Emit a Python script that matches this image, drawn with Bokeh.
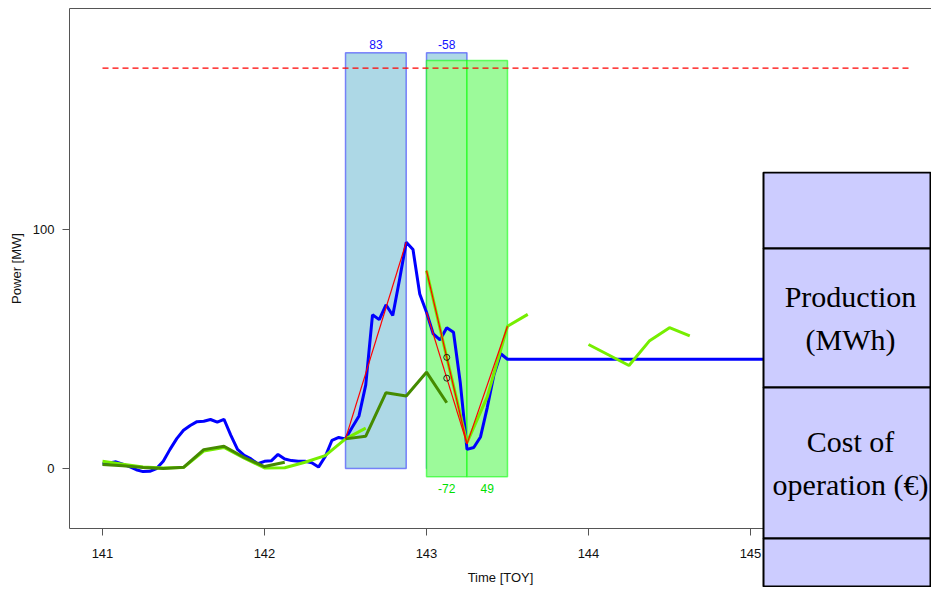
import numpy as np
from bokeh.plotting import figure
from bokeh.layouts import column
from bokeh.models import Range1d, FixedTicker, LinearAxis, ColumnDataSource
from bokeh.embed import file_html
from bokeh.resources import INLINE
from bokeh.core.properties import value

# ---------------- data ----------------
# hourly measured power (MW), starting at TOY 141.0
measured_hours = list(range(61))
measured_t = [141 + h / 24 for h in measured_hours] + [146.0]
measured_power = [2.0, 2.3, 2.8, 1.8, 0.8, -0.5, -1.3, -1.2, 0.0, 3.0,
                  8.0, 12.5, 16.0, 18.0, 19.6, 19.8, 20.5, 19.4, 20.6, 14.0,
                  8.0, 5.5, 4.0, 2.0, 3.0, 3.2, 5.9, 4.0, 3.3, 3.0,
                  3.0, 2.4, 0.6, 5.0, 11.8, 13.0, 12.4, 17.3, 22.0, 35.0,
                  64.3, 62.3, 68.5, 64.0, 79.0, 94.7, 91.6, 73.0, 65.4, 56.3,
                  53.8, 58.9, 57.0, 36.0, 8.0, 8.8, 13.2, 25.5, 39.3, 48.0,
                  45.7, 45.7]

# forecast runs (light green), 3-hourly
forecast_a_t = [[141.0, 141.125, 141.25, 141.375, 141.5, 141.625, 141.75, 141.875,
                 142.0, 142.125, 142.25, 142.375, 142.5, 142.625],
                [143.0, 143.125, 143.25, 143.375, 143.5, 143.625],
                [144.0, 144.125, 144.25, 144.375, 144.5, 144.625]]
forecast_a_power = [[3.0, 1.8, 0.6, 0.2, 0.4, 7.3, 8.8, 4.3, 0.2, 0.3, 2.6, 5.4, 12.4, 16.9],
                    [82.8, 46.5, 10.8, 30.0, 59.5, 64.5],
                    [51.9, 47.5, 43.1, 53.3, 58.9, 55.5]]

# forecast runs (dark green), 3-hourly
forecast_b_t = [[141.0, 141.125, 141.25, 141.375, 141.5, 141.625, 141.75, 141.875, 142.0, 142.125],
                [142.5, 142.625, 142.75, 142.875, 143.0, 143.125]]
forecast_b_power = [[1.7, 1.2, 0.4, 0.0, 0.5, 7.9, 9.3, 4.6, 0.8, 2.6],
                    [12.4, 13.5, 31.7, 30.3, 40.3, 27.5]]

# ramps (red)
ramp_t = [[142.5, 142.875], [143.0, 143.25], [143.0, 143.25], [143.25, 143.5]]
ramp_power = [[12.4, 94.7], [82.8, 10.3], [65.4, 10.3], [10.3, 59.5]]
ramp_mid_t = [143.125, 143.125]
ramp_mid_power = [46.5, 37.8]

# capacity limit (dashed red)
limit_t = [141.0, 146.0]
limit_power = [167.5, 167.5]

# ramp-up blocks (blue)
up_left = [142.5, 143.0]
up_right = [142.875, 143.25]
up_bottom = [0.0, 0.0]
up_top = [174.0, 174.0]
up_labels = ["83", "-58"]

# ramp-down blocks (green)
down_left = [143.0, 143.25]
down_right = [143.25, 143.5]
down_bottom = [-3.5, -3.5]
down_top = [170.7, 170.7]
down_labels = ["-72", "49"]

x_ticks = [141, 142, 143, 144, 145, 146]
y_ticks = [0, 100]

table_rows = ["", "Production\n(MWh)", "Cost of\noperation (\u20ac)", ""]

# ---------------- layout (reference pixel geometry) ----------------
W, H = 931, 587
X_ORIGIN_PX, X_UNIT_PX = 102.0, 162.0   # TOY 141 at px 102, 162 px per day
Y_ORIGIN_PX, Y_UNIT_PX = 468.0, 2.39    # 0 MW at px 468
FRAME_L, FRAME_R, FRAME_T, FRAME_B = 69, W, 8, 528


def xd(px):
    return 141 + (px - X_ORIGIN_PX) / X_UNIT_PX


def yd(py):
    return (Y_ORIGIN_PX - py) / Y_UNIT_PX


FONT = "Liberation Sans"

p = figure(width=W, height=H, output_backend="svg", toolbar_location=None,
           x_range=Range1d(xd(FRAME_L), xd(FRAME_R)),
           y_range=Range1d(yd(FRAME_B), yd(FRAME_T)),
           min_border_left=FRAME_L, min_border_right=0, min_border_top=FRAME_T,
           min_border_bottom=H - FRAME_B)
p.outline_line_color = None
p.grid.visible = False
p.background_fill_color = "white"
p.border_fill_color = "white"

AX_COL = "#555555"
for ax in (p.xaxis[0], p.yaxis[0]):
    ax.axis_line_color = AX_COL
    ax.major_tick_line_color = AX_COL
    ax.minor_tick_line_color = None
    ax.major_tick_in = 0
    ax.major_tick_out = 7
    ax.major_label_text_font = FONT
    ax.major_label_text_font_size = "13px"
    ax.major_label_text_color = "#111111"
    ax.axis_label_text_font = FONT
    ax.axis_label_text_font_size = "13px"
    ax.axis_label_text_font_style = "normal"
    ax.axis_label_text_color = "#111111"

p.xaxis.ticker = FixedTicker(ticks=x_ticks)
p.yaxis.ticker = FixedTicker(ticks=y_ticks)
p.xaxis.axis_label = "Time [TOY]"
p.yaxis.axis_label = "Power [MW]"
p.xaxis.major_label_standoff = 13
p.xaxis.axis_label_standoff = 9
p.yaxis.major_label_standoff = 8
p.yaxis.axis_label_standoff = 6
p.yaxis.major_label_orientation = "horizontal"

top_axis = LinearAxis(ticker=FixedTicker(ticks=[]), axis_line_color=AX_COL,
                      major_tick_out=0, major_tick_in=0, minor_tick_out=0, minor_tick_in=0,
                      major_label_text_font_size="0px", major_label_standoff=0)
p.add_layout(top_axis, "above")

# blocks
up_src = ColumnDataSource(dict(l=up_left, r=up_right, b=up_bottom, t=up_top,
                               c=[(a + b) / 2 for a, b in zip(up_left, up_right)], lab=up_labels))
down_src = ColumnDataSource(dict(l=down_left, r=down_right, b=down_bottom, t=down_top,
                                 c=[(a + b) / 2 for a, b in zip(down_left, down_right)], lab=down_labels))
p.quad(left="l", right="r", bottom="b", top="t", source=up_src,
       fill_color="#ADD8E6", line_color="#0000FF", line_alpha=0.45, line_width=1.5)
p.quad(left="l", right="r", bottom="b", top="t", source=down_src,
       fill_color="#9CFA9A", line_color="#00FF00", line_alpha=0.55, line_width=1.5)
p.text(x="c", y="t", text="lab", source=up_src, text_color="#1010FF",
       text_font=value(FONT), text_font_size="12px", text_align="center",
       text_baseline="bottom", y_offset=-4)
p.text(x="c", y="b", text="lab", source=down_src, text_color="#00E000",
       text_font=value(FONT), text_font_size="12px", text_align="center",
       text_baseline="top", y_offset=7)

# capacity limit
p.line(limit_t, limit_power, line_color="#FF0000", line_width=1.2, line_dash="6 4")

# series
p.line(measured_t, measured_power, line_color="#0000FF", line_width=3)
p.multi_line(forecast_a_t, forecast_a_power, line_color="#76EE00", line_width=3)
p.multi_line(forecast_b_t, forecast_b_power, line_color="#458B00", line_width=3)
p.multi_line(ramp_t, ramp_power, line_color="#FF0000", line_width=1.2)
p.scatter(ramp_mid_t, ramp_mid_power, marker="circle", size=6, fill_color=None,
          line_color="black", line_width=0.8)

# ---------------- table overlay (transparent second figure pulled over the first) ----------------
TT = 171                      # table top in chart pixels
TH = H - TT                   # overlay height
# overlay x coordinates = chart pixels (frame spans FRAME_L..W like the main plot)
t = figure(width=W, height=TH, output_backend="svg", toolbar_location=None,
           x_range=Range1d(FRAME_L, W), y_range=Range1d(H, TT),
           x_axis_type=None, y_axis_type=None,
           min_border_left=FRAME_L, min_border_right=0, min_border_top=0, min_border_bottom=0)
t.outline_line_color = None
t.grid.visible = False
t.background_fill_alpha = 0
t.border_fill_alpha = 0
t.margin = (-TH, 0, 0, 0)

row_edges = [172, 248, 387, 538, 586]
TL, TR = 763, 930
tab_src = ColumnDataSource(dict(
    l=[TL] * len(table_rows), r=[TR] * len(table_rows),
    top=row_edges[:-1], bottom=row_edges[1:],
    cx=[850] * len(table_rows),
    cy=[(a + b) / 2 for a, b in zip(row_edges[:-1], row_edges[1:])],
    txt=table_rows))
t.quad(left="l", right="r", top="top", bottom="bottom", source=tab_src,
       fill_color="#CCCCFF", line_color="black", line_width=2)
t.text(x="cx", y="cy", text="txt", source=tab_src, text_font=value("Liberation Serif"),
       text_font_size="30px", text_align="center", text_baseline="middle",
       text_line_height=1.3, text_color="black")

layout = column(p, t, spacing=0)
open("out.html", "w").write(file_html(layout, INLINE))
